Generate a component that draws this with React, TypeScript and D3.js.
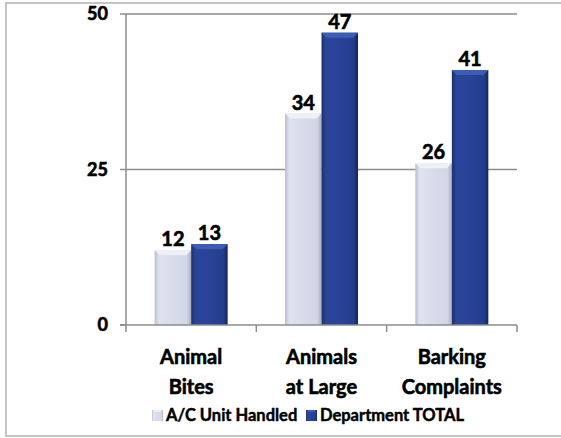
import React from "react";
import * as d3 from "d3";

const categories: string[][] = [
  ["Animal", "Bites"],
  ["Animals", "at Large"],
  ["Barking", "Complaints"],
];
const seriesNames = ["A/C Unit Handled", "Department TOTAL"];
const unitHandled = [12, 34, 26];
const departmentTotal = [13, 47, 41];
const yTicks = [0, 25, 50];

const W = 561;
const H = 438;
const plot = { left: 126, right: 517, top: 14, bottom: 325 };
const FONT = "Lato, 'Open Sans', sans-serif";
// a thin outline thickens the bold face a little
const heavy = { fontWeight: 700, stroke: "#000", strokeWidth: 0.6 };

export default function App() {
  const x = d3
    .scaleBand<number>()
    .domain(d3.range(categories.length))
    .range([plot.left, plot.right])
    .paddingInner(0)
    .paddingOuter(0);
  const y = d3.scaleLinear().domain([0, 50]).range([plot.bottom, plot.top]);
  const barW = 36.5;
  const series = [unitHandled, departmentTotal];
  const fills = ["url(#gLight)", "url(#gDark)"];
  const bevels = ["#eef0f8", "#3d5cb3"];
  const legendX = [152, 306];

  return (
    <svg
      width={W}
      height={H}
      style={{ position: "absolute", left: 0, top: 0 }}
      fontFamily={FONT}
    >
      <defs>
        <linearGradient id="gLight" x1="0" x2="1" y1="0" y2="0">
          <stop offset="0" stopColor="#b9bdcd" />
          <stop offset="0.12" stopColor="#dfe2ef" />
          <stop offset="0.5" stopColor="#d8dbea" />
          <stop offset="0.88" stopColor="#d3d6e6" />
          <stop offset="1" stopColor="#a9adbe" />
        </linearGradient>
        <linearGradient id="gDark" x1="0" x2="1" y1="0" y2="0">
          <stop offset="0" stopColor="#1c2f6e" />
          <stop offset="0.12" stopColor="#2a4497" />
          <stop offset="0.5" stopColor="#29439a" />
          <stop offset="0.88" stopColor="#243d8c" />
          <stop offset="1" stopColor="#15255a" />
        </linearGradient>
      </defs>
      <rect x={0} y={0} width={W} height={H} fill="#fff" />
      <rect
        x={6}
        y={3}
        width={W + 4}
        height={433}
        fill="none"
        stroke="#c4c4c4"
        strokeWidth={2}
      />

      {/* gridlines */}
      {yTicks
        .filter((t) => t > 0)
        .map((t) => (
          <line
            key={t}
            x1={plot.left}
            x2={plot.right}
            y1={y(t)}
            y2={y(t)}
            stroke="#8c8c8c"
            strokeWidth={1.5}
          />
        ))}

      {/* bars */}
      {categories.map((_, i) => {
        const cx = (x(i) as number) + x.bandwidth() / 2;
        return series.map((vals, s) => {
          const bx = cx - barW + s * barW;
          const by = y(vals[i]);
          const bh = plot.bottom - by;
          const bev = 5;
          return (
            <g key={`${i}-${s}`}>
              <rect x={bx} y={by} width={barW} height={bh} fill={fills[s]} />
              <path
                d={`M${bx},${by} L${bx + barW},${by} L${bx + barW - bev},${by + bev} L${bx + bev},${by + bev} Z`}
                fill={bevels[s]}
              />
              <text
                x={bx + barW / 2}
                y={by - 4}
                textAnchor="middle"
                fontSize={20}
                fill="#000"
                {...heavy}
              >
                {vals[i]}
              </text>
            </g>
          );
        });
      })}

      {/* axes */}
      <line
        x1={plot.left}
        x2={plot.left}
        y1={plot.top}
        y2={plot.bottom}
        stroke="#8c8c8c"
        strokeWidth={1.5}
      />
      <line
        x1={plot.left - 6}
        x2={plot.right}
        y1={plot.bottom}
        y2={plot.bottom}
        stroke="#8c8c8c"
        strokeWidth={1.5}
      />
      {yTicks.map((t) => (
        <g key={t}>
          <line
            x1={plot.left - 6}
            x2={plot.left}
            y1={y(t)}
            y2={y(t)}
            stroke="#8c8c8c"
            strokeWidth={1.5}
          />
          <text
            x={108}
            y={y(t)}
            dy="0.36em"
            textAnchor="end"
            fontSize={18}
            {...heavy}
          >
            {t}
          </text>
        </g>
      ))}
      {d3.range(categories.length + 1).map((i) => {
        const tx = plot.left + i * x.bandwidth();
        return (
          <line
            key={i}
            x1={tx}
            x2={tx}
            y1={plot.bottom}
            y2={plot.bottom + 7}
            stroke="#8c8c8c"
            strokeWidth={1.5}
          />
        );
      })}
      {categories.map((lines, i) => {
        const cx = (x(i) as number) + x.bandwidth() / 2;
        return (
          <text key={i} x={cx} textAnchor="middle" fontSize={20} {...heavy}>
            {lines.map((l, k) => (
              <tspan key={k} x={cx} y={364 + k * 29.5}>
                {l}
              </tspan>
            ))}
          </text>
        );
      })}

      {/* legend */}
      {seriesNames.map((name, s) => {
        const lx = legendX[s];
        return (
          <g key={name}>
            <rect x={lx} y={410} width={11} height={11} fill={fills[s]} />
            <rect
              x={lx + 2}
              y={410}
              width={7}
              height={2}
              fill={bevels[s]}
            />
            <text x={lx + 14} y={421} fontSize={16.5} {...heavy} strokeWidth={0.45}>
              {name}
            </text>
          </g>
        );
      })}
    </svg>
  );
}
